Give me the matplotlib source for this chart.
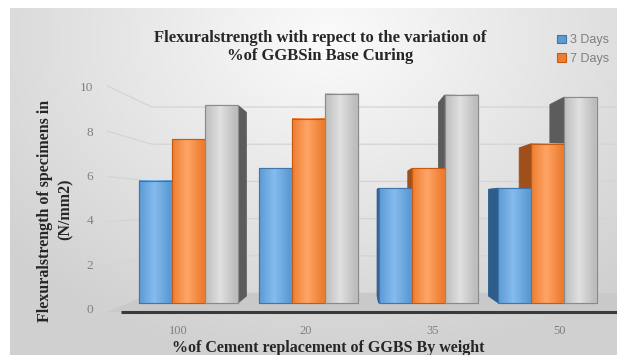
import matplotlib
matplotlib.use('Agg')
import matplotlib.pyplot as plt
import numpy as np
from matplotlib.patches import Polygon, Rectangle
from matplotlib.colors import to_rgb

# data
categories = ['100', '20', '35', '50']
days3 = [5.9, 6.5, 5.55, 5.55]
days7 = [7.9, 8.9, 6.5, 7.7]
days28 = [9.55, 10.1, 10.05, 9.95]
series_names = ['3 Days', '7 Days', '28 Days']
yticks = [0, 2, 4, 6, 8, 10]

title = 'Flexuralstrength with repect to the variation of\n%of GGBSin Base Curing'
ylabel1 = 'Flexuralstrength of specimens in'
ylabel2 = '(N/mm2)'
xlabel = '%of Cement replacement of GGBS By weight'

W, H = 617, 355
# pixel layout of the bar front plane
GX0, SX = 188.5, 119.8
GY0, SY = 303.0, 20.7

# fake 3d: vanishing point and depth factors (relative to bar front plane)
VX, VY = (357 - GX0) / SX, (GY0 - 204.5) / SY
K_BAR = 0.93
K_WALL = 0.898
K_FRONT = 1.092
K_YLAB = 1.072
K_XLAB = 1.06


def proj(x, y, k):
    return VX + k * (x - VX), VY + k * (y - VY)


fig = plt.figure(figsize=(W / 100, H / 100), dpi=100)
fig.patch.set_facecolor('white')

# background gradient
bg = fig.add_axes([10 / W, 0, (W - 10) / W, (H - 8) / H])
yy, xx = np.mgrid[0:347, 0:607]
d = np.clip(np.hypot(xx - 320, (yy - 30) * 1.3) / 430, 0, 1)
c0 = np.array(to_rgb('#fbfbfb'))
c1 = np.array(to_rgb('#d0d0d0'))
bg.imshow(c0 + (c1 - c0) * d[..., None], aspect='auto', interpolation='bilinear')
bg.axis('off')

ax = fig.add_axes([0, 0, 1, 1])
ax.patch.set_alpha(0)
ax.axis('off')

# back wall + left wall gridlines
for v in yticks:
    pts = [proj(-0.5, v, K_FRONT), proj(-0.5, v, K_WALL), proj(4.5, v, K_WALL)]
    ax.plot([p[0] for p in pts], [p[1] for p in pts], color='#d4d4d4', lw=0.9, zorder=1)

# floor
floor = [proj(-0.5, 0, K_FRONT), proj(4.5, 0, K_FRONT), proj(4.5, 0, K_WALL), proj(-0.5, 0, K_WALL)]
ax.add_patch(Polygon(floor, closed=True, fc='#c9c9c9', ec='none', zorder=1.2))
fa, fb = proj(-0.4, 0, K_FRONT), proj(4.5, 0, K_FRONT)
ax.plot([fa[0], fb[0]], [fa[1], fb[1]], color='#3a3a3a', lw=2.2, zorder=1.3, solid_capstyle='butt')

front = ['#5b9bd5', '#ed7d31', '#bdbdbd']
light = ['#86bbee', '#ffa566', '#e0e0e0']
edge = ['#3f75ad', '#c55a11', '#8a8a8a']
side = ['#2e5d8c', '#9f4f1a', '#5c5c5c']

width = 0.2755
x = np.arange(len(categories))
containers = []
for s, vals in enumerate([days3, days7, days28]):
    xs = x + (s - 1) * width
    bars = ax.bar(xs, vals, width=width, color=front[s], edgecolor=edge[s],
                  linewidth=0.8, zorder=3, label=series_names[s])
    containers.append(bars)
    for r in bars:
        x0, x1, h = r.get_x(), r.get_x() + r.get_width(), r.get_height()
        # side face
        if x1 < VX:
            xe = x1
        elif x0 > VX:
            xe = x0
        else:
            xe = None
        if xe is not None:
            poly = [(xe, 0), (xe, h), proj(xe, h, K_BAR), proj(xe, 0, K_BAR)]
            ax.add_patch(Polygon(poly, closed=True, fc=side[s], ec=side[s], lw=0.6, zorder=2))
        # horizontal shading on front face
        t = np.linspace(0, 1, 40)
        b = np.clip(1 - np.abs(t - 0.45) * 2.2, 0, 1)
        ca, cb = np.array(to_rgb(front[s])), np.array(to_rgb(light[s]))
        arr = (ca + (cb - ca) * b[:, None])[None, :, :]
        ax.imshow(arr, extent=[x0, x1, 0, h], aspect='auto', zorder=3.2, interpolation='bilinear')
        ax.add_patch(Rectangle((x0, 0), x1 - x0, h, fill=False, ec=edge[s], lw=0.8, zorder=3.4))

# y tick labels on the front-left edge
for v in yticks:
    _, yl = proj(0, v, K_YLAB)
    ax.text((93 - GX0) / SX, yl, str(v), ha='right', va='center', color='#808080',
            fontsize=9.5, family='Liberation Serif', zorder=5)

# x tick labels on the front plane
for i, lab in enumerate(categories):
    xl, _ = proj(i, 0, K_XLAB)
    ax.text(xl, (GY0 - 331) / SY, lab, ha='center', va='center', color='#808080',
            fontsize=9, family='Liberation Serif', zorder=5)

ax.set_xlim(-GX0 / SX, (W - GX0) / SX)
ax.set_ylim((GY0 - H) / SY, GY0 / SY)

fig.text(320 / W, 1 - 47 / H, title, ha='center', va='center', fontsize=12,
         fontweight='bold', family='Liberation Serif', color='#262626', linespacing=1.15)
fig.text(45 / W, 1 - 211 / H, ylabel1, rotation=90, ha='center', va='center', fontsize=11.5,
         fontweight='bold', family='Liberation Serif', color='#262626')
fig.text(66 / W, 1 - 209 / H, ylabel2, rotation=90, ha='center', va='center', fontsize=11.5,
         fontweight='bold', family='Liberation Serif', color='#262626')
fig.text(328 / W, 1 - 348.5 / H, xlabel, ha='center', va='center', fontsize=11.5,
         fontweight='bold', family='Liberation Serif', color='#262626')

fig.legend(handles=containers[:2], labels=series_names[:2], loc='upper left',
           bbox_to_anchor=(551 / W, 1 - 28 / H), frameon=False,
           labelcolor='#7f7f7f', handlelength=0.7, handleheight=0.7,
           handletextpad=0.3, labelspacing=0.55, borderpad=0,
           prop={'family': 'Liberation Sans', 'size': 9})

fig.savefig('out.png', dpi=100)
